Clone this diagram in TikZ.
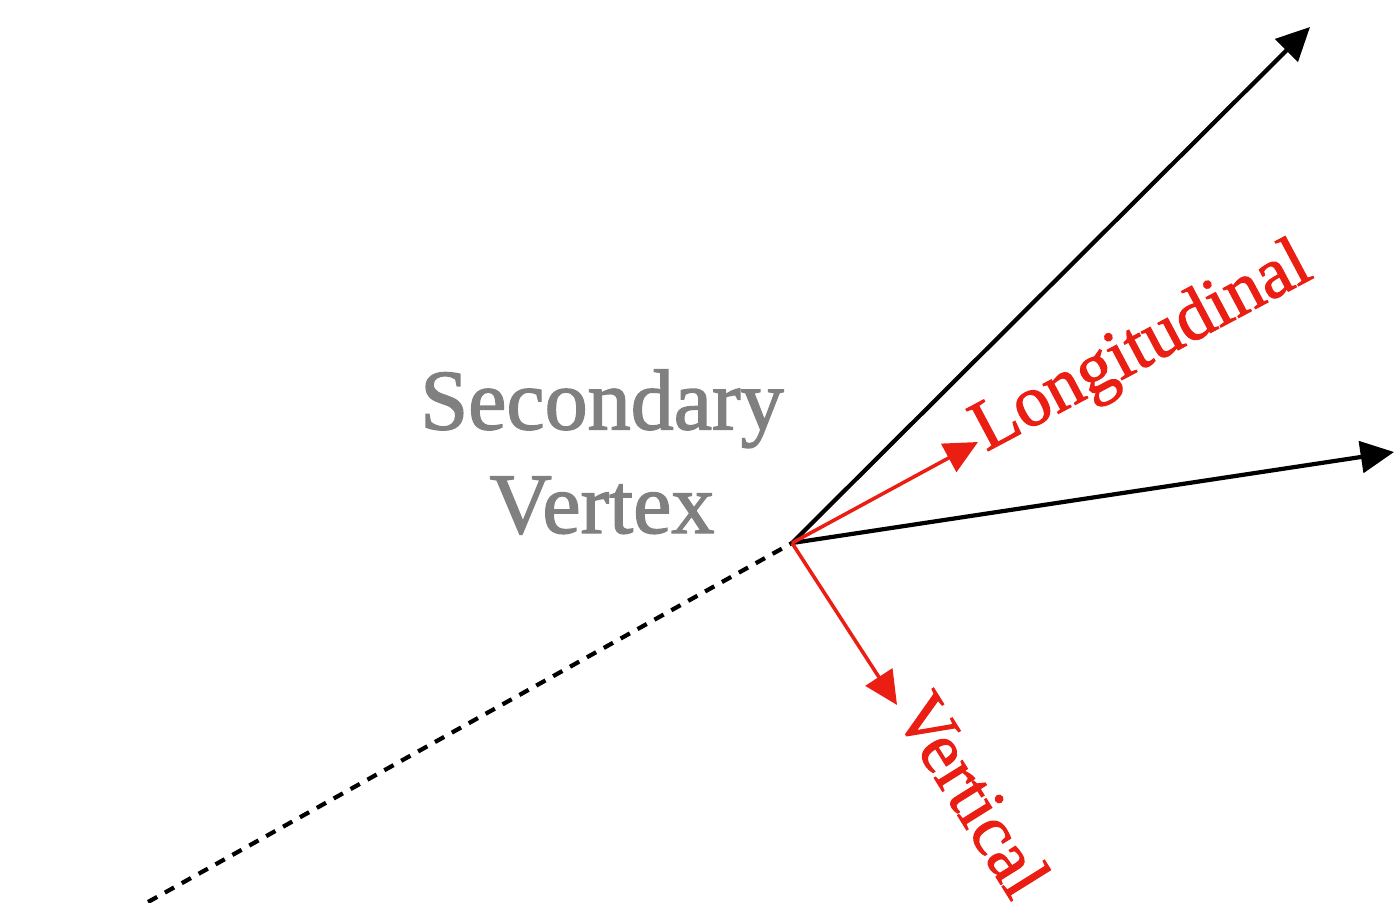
\documentclass[tikz,border=0pt]{standalone}
\usepackage{fontspec}
\setmainfont{Liberation Serif}
\newfontfamily\heavyserif[FakeBold=1.6]{Liberation Serif}
\usepackage{tikz}
\usetikzlibrary{arrows.meta}
\definecolor{vtxgray}{RGB}{128,128,128}
\definecolor{axisred}{RGB}{234,30,18}

\begin{document}
\begin{tikzpicture}[x=0.02cm, y=-0.02cm,
                  trk/.style={-{Triangle[length=19pt, width=18pt]}, line width=2.4pt, black},
                  flight/.style={line width=2.4pt, dash pattern=on 6pt off 5pt},
                  axis/.style={-{Triangle[length=19pt, width=18pt]}, line width=2pt, axisred},
                  axlabel/.style={font=\heavyserif\fontsize{41}{47}\selectfont, text=axisred, inner sep=0pt},
                  vtxlabel/.style={font=\heavyserif\fontsize{49}{59}\selectfont, text=vtxgray, align=center},
            ]
            \useasboundingbox (0,0) rectangle (1395,902);

            % vertex and track ends
            \coordinate (sv) at (792,543);
            \coordinate (pv) at (148,902);
            \coordinate (trkA) at (1310,27);
            \coordinate (trkB) at (1394,452);
            \coordinate (lon) at (978,442);
            \coordinate (ver) at (897,705);

            % flight direction from the primary side
            \draw[flight] (pv) -- (sv);

            % tracks
            \draw[trk] (sv) -- (trkA);
            \draw[trk] (sv) -- (trkB);

            % local axes
            \draw[axis] (sv) -- (lon);
            \draw[axis] (sv) -- (ver);

            % labels
            \node[vtxlabel] (svlabel) at (602,452) {Secondary\\Vertex};
            \node[axlabel, anchor=base west, rotate=28] (lonlabel) at (986,452) {Longitudinal};
            \node[axlabel, anchor=base west, rotate=-58] (verlabel) at (893,712) {Vertical};

      \end{tikzpicture}
\end{document}
